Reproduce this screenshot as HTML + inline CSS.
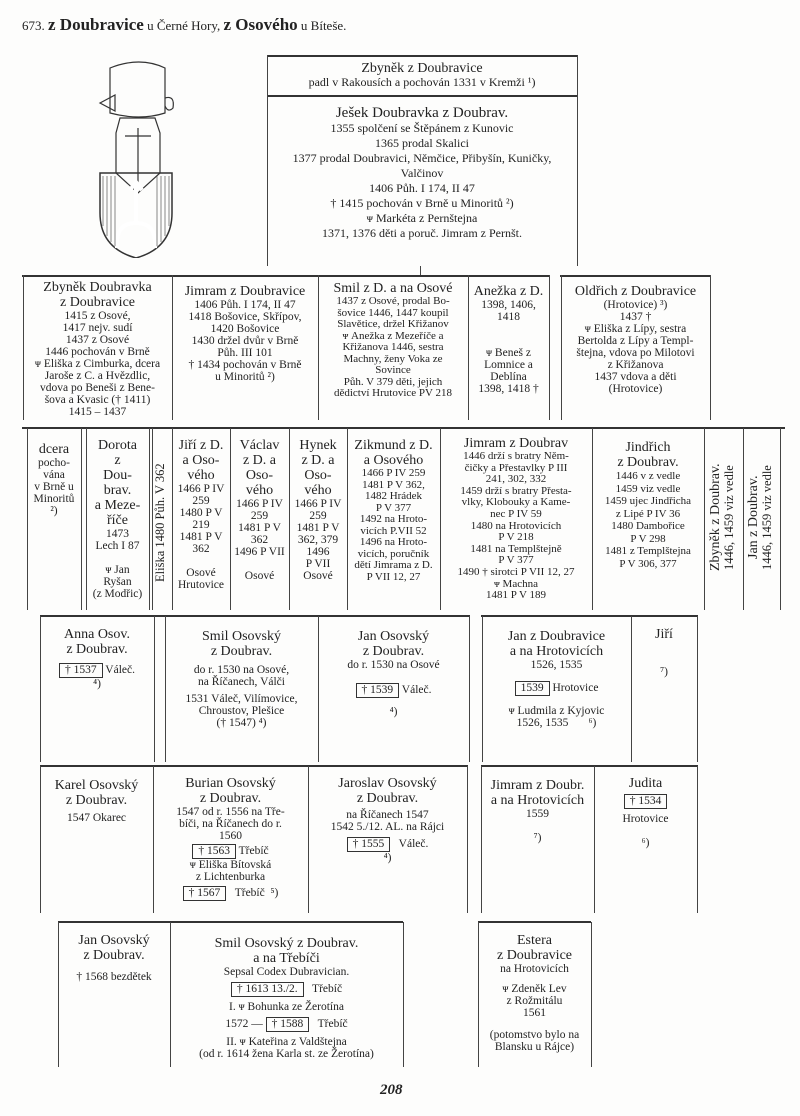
<!DOCTYPE html>
<html><head><meta charset="utf-8"><style>
body{margin:0;background:#fff;}
#p{position:relative;width:800px;height:1116px;background:#fdfdfc;font-family:"Liberation Serif",serif;color:#222;overflow:hidden;}
.h{position:absolute;height:2px;background:#333;}
.v{position:absolute;width:1px;background:#444;}
.t{position:absolute;text-align:center;font-size:11.5px;line-height:12px;}
.n{font-size:14px;line-height:15px;}
.b{border:1px solid #333;padding:0 5px;display:inline-block;line-height:13px;}
.vt{position:absolute;writing-mode:vertical-rl;transform:rotate(180deg);font-size:12.5px;line-height:13px;text-align:center;}
</style></head><body><div id="p">
<div style="position:absolute;left:22px;top:15px;font-size:13px;">673. <b style="font-size:17px;">z Doubravice</b> u Černé Hory, <b style="font-size:17px;">z Osového</b> u Bíteše.</div>
<svg style="position:absolute;left:95px;top:58px" width="85" height="200" viewBox="0 0 85 200">
<g fill="none" stroke="#333" stroke-width="1.2">
<path d="M15 10 q30 -12 55 0 v45 q-25 8 -55 0 z"/>
<path d="M5 45 l15 -8 v16 z"/>
<path d="M70 40 q10 -3 8 10 q-5 5 -8 -2"/>
<path d="M25 60 h35 l5 15 v40 l-22 20 l-22 -20 v-40 z"/>
<path d="M43 70 v60 M30 78 h26"/>
<path d="M5 115 h72 v40 q0 35 -36 45 q-36 -10 -36 -45 z" stroke-width="1.5"/>
<path d="M41 125 v40 M35 132 l6 -8 l6 8 M22 190 q-2 -25 19 -25 q21 0 19 25" stroke="#fff" stroke-width="4"/>
</g>
<g stroke="#555" stroke-width="0.7"><path d="M8 118v50M12 118v60M16 118v66M20 118v70M62 118v70M66 118v66M70 118v60M74 118v50"/></g>
</svg>
<!-- top boxes -->
<div class="h" style="left:267px;top:55px;width:311px"></div>
<div class="h" style="left:267px;top:95px;width:311px"></div>
<div class="v" style="left:267px;top:55px;height:211px"></div>
<div class="v" style="left:577px;top:55px;height:211px"></div>
<div class="t" style="left:267px;top:61px;width:310px;font-size:12px"><span class="n">Zbyněk z Doubravice</span><br>padl v Rakousích a pochován 1331 v Kremži ¹)</div>
<div class="t" style="left:267px;top:106px;width:310px;line-height:15px;font-size:12px"><span class="n" style="font-size:15px">Ješek Doubravka z Doubrav.</span><br>1355 spolčení se Štěpánem z Kunovic<br>1365 prodal Skalici<br>1377 prodal Doubravici, Němčice, Přibyšín, Kuničky,<br><span style="line-height:11px">Valčinov</span><br>1406 Půh. I 174, II 47<br>† 1415 pochován v Brně u Minoritů ²)<br>ᴪ Markéta z Pernštejna<br>1371, 1376 děti a poruč. Jimram z Pernšt.</div>
<div class="v" style="left:420px;top:266px;height:10px"></div>
<!-- row2 -->
<div class="h" style="left:22px;top:275px;width:528px"></div>
<div class="h" style="left:560px;top:275px;width:150px"></div>
<div class="v" style="left:23px;top:275px;height:145px"></div>
<div class="v" style="left:172px;top:275px;height:145px"></div>
<div class="v" style="left:318px;top:275px;height:145px"></div>
<div class="v" style="left:468px;top:275px;height:145px"></div>
<div class="v" style="left:549px;top:275px;height:145px"></div>
<div class="v" style="left:561px;top:275px;height:145px"></div>
<div class="v" style="left:710px;top:275px;height:145px"></div>
<div class="t" style="left:23px;top:280px;width:149px"><span class="n">Zbyněk Doubravka<br>z Doubravice</span><br>1415 z Osové,<br>1417 nejv. sudí<br>1437 z Osové<br>1446 pochován v Brně<br>ᴪ Eliška z Cimburka, dcera<br>Jaroše z C. a Hvězdlic,<br>vdova po Beneši z Bene-<br>šova a Kvasic († 1411)<br>1415 – 1437</div>
<div class="t" style="left:172px;top:284px;width:146px"><span class="n">Jimram z Doubravice</span><br>1406 Půh. I 174, II 47<br>1418 Bošovice, Skřípov,<br>1420 Bošovice<br>1430 držel dvůr v Brně<br>Půh. III 101<br>† 1434 pochován v Brně<br>u Minoritů ²)</div>
<div class="t" style="left:318px;top:281px;width:150px;font-size:11px;line-height:11.5px"><span class="n">Smil z D. a na Osové</span><br>1437 z Osové, prodal Bo-<br>šovice 1446, 1447 koupil<br>Slavětice, držel Křižanov<br>ᴪ Anežka z Mezeříče a<br>Křižanova 1446, sestra<br>Machny, ženy Voka ze<br>Sovince<br>Půh. V 379 děti, jejich<br>dědictví Hrutovice PV 218</div>
<div class="t" style="left:468px;top:284px;width:81px"><span class="n">Anežka z D.</span><br>1398, 1406,<br>1418<br><br><br>ᴪ Beneš z<br>Lomnice a<br>Deblína<br>1398, 1418 †</div>
<div class="t" style="left:561px;top:284px;width:149px"><span class="n">Oldřich z Doubravice</span><br>(Hrotovice) ³)<br>1437 †<br>ᴪ Eliška z Lípy, sestra<br>Bertolda z Lípy a Templ-<br>štejna, vdova po Milotovi<br>z Křižanova<br>1437 vdova a děti<br>(Hrotovice)</div>
<!-- row3 -->
<div class="h" style="left:22px;top:427px;width:763px"></div>
<div class="v" style="left:27px;top:428px;height:182px"></div>
<div class="v" style="left:81px;top:428px;height:182px"></div>
<div class="v" style="left:86px;top:428px;height:182px"></div>
<div class="v" style="left:149px;top:428px;height:182px"></div>
<div class="v" style="left:152px;top:428px;height:182px"></div>
<div class="v" style="left:172px;top:428px;height:182px"></div>
<div class="v" style="left:230px;top:428px;height:182px"></div>
<div class="v" style="left:289px;top:428px;height:182px"></div>
<div class="v" style="left:347px;top:428px;height:182px"></div>
<div class="v" style="left:440px;top:428px;height:182px"></div>
<div class="v" style="left:592px;top:428px;height:182px"></div>
<div class="v" style="left:704px;top:428px;height:182px"></div>
<div class="v" style="left:743px;top:428px;height:182px"></div>
<div class="v" style="left:780px;top:428px;height:182px"></div>
<div class="t" style="left:27px;top:442px;width:54px"><span class="n">dcera</span><br>pocho-<br>vána<br>v Brně u<br>Minoritů<br>²)</div>
<div class="t" style="left:86px;top:438px;width:63px"><span class="n">Dorota<br>z<br>Dou-<br>brav.<br>a Meze-<br>říče</span><br>1473<br>Lech I 87<br><br>ᴪ Jan<br>Ryšan<br>(z Modřic)</div>
<div class="vt" style="left:154px;top:440px;height:165px;width:16px">Eliška 1480 Půh. V 362</div>
<div class="t" style="left:172px;top:438px;width:58px"><span class="n">Jiří z D.<br>a Oso-<br>vého</span><br>1466 P IV<br>259<br>1480 P V<br>219<br>1481 P V<br>362<br><br>Osové<br>Hrutovice</div>
<div class="t" style="left:230px;top:438px;width:59px"><span class="n">Václav<br>z D. a<br>Oso-<br>vého</span><br>1466 P IV<br>259<br>1481 P V<br>362<br>1496 P VII<br><br>Osové</div>
<div class="t" style="left:289px;top:438px;width:58px"><span class="n">Hynek<br>z D. a<br>Oso-<br>vého</span><br>1466 P IV<br>259<br>1481 P V<br>362, 379<br>1496<br>P VII<br>Osové</div>
<div class="t" style="left:347px;top:438px;width:93px;font-size:11px;line-height:11.5px"><span class="n">Zikmund z D.<br>a Osového</span><br>1466 P IV 259<br>1481 P V 362,<br>1482 Hrádek<br>P V 377<br>1492 na Hroto-<br>vicích P.VII 52<br>1496 na Hroto-<br>vicích, poručník<br>dětí Jimrama z D.<br>P VII 12, 27</div>
<div class="t" style="left:440px;top:436px;width:152px;font-size:11px;line-height:11.6px"><span class="n">Jimram z Doubrav</span><br>1446 drží s bratry Něm-<br>čičky a Přestavlky P III<br>241, 302, 332<br>1459 drží s bratry Přesta-<br>vlky, Klobouky a Kame-<br>nec P IV 59<br>1480 na Hrotovicích<br>P V 218<br>1481 na Templštejně<br>P V 377<br>1490 † sirotci P VII 12, 27<br>ᴪ Machna<br>1481 P V 189</div>
<div class="t" style="left:592px;top:440px;width:112px;font-size:11px;line-height:12.5px"><span class="n">Jindřich<br>z Doubrav.</span><br>1446 v z vedle<br>1459 viz vedle<br>1459 ujec Jindřicha<br>z Lipé P IV 36<br>1480 Dambořice<br>P V 298<br>1481 z Templštejna<br>P V 306, 377</div>
<div class="vt" style="left:708px;top:440px;height:155px;width:32px"><span class="n">Zbyněk z Doubrav.</span><br>1446, 1459 viz vedle</div>
<div class="vt" style="left:746px;top:440px;height:155px;width:32px"><span class="n">Jan z Doubrav.</span><br>1446, 1459 viz vedle</div>
<!-- row4 -->
<div class="h" style="left:40px;top:615px;width:430px"></div>
<div class="h" style="left:481px;top:615px;width:217px"></div>
<div class="v" style="left:40px;top:616px;height:146px"></div>
<div class="v" style="left:154px;top:616px;height:146px"></div>
<div class="v" style="left:165px;top:616px;height:146px"></div>
<div class="v" style="left:318px;top:616px;height:146px"></div>
<div class="v" style="left:469px;top:616px;height:146px"></div>
<div class="v" style="left:482px;top:616px;height:146px"></div>
<div class="v" style="left:631px;top:616px;height:146px"></div>
<div class="v" style="left:697px;top:616px;height:146px"></div>
<div class="t" style="left:40px;top:627px;width:114px"><span class="n">Anna Osov.<br>z Doubrav.</span><br><div style="margin-top:6px"><span class="b">† 1537</span> Váleč.</div>⁴)</div>
<div class="t" style="left:165px;top:629px;width:153px"><span class="n">Smil Osovský<br>z Doubrav.</span><br><div style="margin-top:5px">do r. 1530 na Osové,<br>na Říčanech, Válči</div><div style="margin-top:5px">1531 Váleč, Vilímovice,<br>Chroustov, Plešice<br>(† 1547) ⁴)</div></div>
<div class="t" style="left:318px;top:629px;width:151px"><span class="n">Jan Osovský<br>z Doubrav.</span><br>do r. 1530 na Osové<div style="margin-top:12px"><span class="b">† 1539</span> Váleč.</div><div style="margin-top:8px">⁴)</div></div>
<div class="t" style="left:482px;top:629px;width:149px"><span class="n">Jan z Doubravice<br>a na Hrotovicích</span><br>1526, 1535<div style="margin-top:10px"><span class="b">1539</span> Hrotovice</div><div style="margin-top:9px">ᴪ Ludmila z Kyjovic<br>1526, 1535 &nbsp; &nbsp; &nbsp; ⁶)</div></div>
<div class="t" style="left:631px;top:627px;width:66px"><span class="n">Jiří</span><br><br><br>⁷)</div>
<!-- row5 -->
<div class="h" style="left:40px;top:765px;width:428px"></div>
<div class="h" style="left:481px;top:765px;width:217px"></div>
<div class="v" style="left:40px;top:766px;height:147px"></div>
<div class="v" style="left:153px;top:766px;height:147px"></div>
<div class="v" style="left:308px;top:766px;height:147px"></div>
<div class="v" style="left:467px;top:766px;height:147px"></div>
<div class="v" style="left:481px;top:766px;height:147px"></div>
<div class="v" style="left:594px;top:766px;height:147px"></div>
<div class="v" style="left:697px;top:766px;height:147px"></div>
<div class="t" style="left:40px;top:778px;width:113px"><span class="n">Karel Osovský<br>z Doubrav.</span><br><div style="margin-top:4px">1547 Okarec</div></div>
<div class="t" style="left:153px;top:776px;width:155px"><span class="n">Burian Osovský<br>z Doubrav.</span><br>1547 od r. 1556 na Tře-<br>bíči, na Říčanech do r.<br>1560<div style="margin-top:2px"><span class="b">† 1563</span> Třebíč</div>ᴪ Eliška Bítovská<br>z Lichtenburka<div style="margin-top:3px"><span class="b">† 1567</span> &nbsp; Třebíč &nbsp;⁵)</div></div>
<div class="t" style="left:308px;top:776px;width:159px"><span class="n">Jaroslav Osovský<br>z Doubrav.</span><br><div style="margin-top:3px">na Říčanech 1547<br>1542 5./12. AL. na Rájci</div><div style="margin-top:4px"><span class="b">† 1555</span> &nbsp; Váleč.</div>⁴)</div>
<div class="t" style="left:481px;top:778px;width:113px"><span class="n">Jimram z Doubr.<br>a na Hrotovicích</span><br>1559<br><br>⁷)</div>
<div class="t" style="left:594px;top:776px;width:103px"><span class="n">Judita</span><div style="margin-top:3px"><span class="b">† 1534</span></div><div style="margin-top:4px">Hrotovice</div><br>⁶)</div>
<!-- row6 -->
<div class="h" style="left:58px;top:921px;width:345px"></div>
<div class="h" style="left:478px;top:921px;width:113px"></div>
<div class="v" style="left:58px;top:922px;height:145px"></div>
<div class="v" style="left:170px;top:922px;height:145px"></div>
<div class="v" style="left:403px;top:922px;height:145px"></div>
<div class="v" style="left:478px;top:922px;height:145px"></div>
<div class="v" style="left:591px;top:922px;height:145px"></div>
<div class="t" style="left:58px;top:933px;width:112px"><span class="n">Jan Osovský<br>z Doubrav.</span><br><div style="margin-top:8px">† 1568 bezdětek</div></div>
<div class="t" style="left:170px;top:936px;width:233px"><span class="n">Smil Osovský z Doubrav.<br>a na Třebíči</span><br>Sepsal Codex Dubravician.<div style="margin-top:4px"><span class="b">† 1613 13./2.</span> &nbsp; Třebíč</div><div style="margin-top:4px">I. ᴪ Bohunka ze Žerotína</div><div style="margin-top:4px">1572 — <span class="b">† 1588</span> &nbsp; Třebíč</div><div style="margin-top:4px">II. ᴪ Kateřina z Valdštejna<br>(od r. 1614 žena Karla st. ze Žerotína)</div></div>
<div class="t" style="left:478px;top:933px;width:113px"><span class="n">Estera<br>z Doubravice</span><br>na Hrotovicích<div style="margin-top:8px">ᴪ Zdeněk Lev<br>z Rožmitálu<br>1561</div><div style="margin-top:10px">(potomstvo bylo na<br>Blansku u Rájce)</div></div>
<div style="position:absolute;left:380px;top:1082px;font-size:15px;font-style:italic;font-weight:bold;">208</div>
</div></body></html>
